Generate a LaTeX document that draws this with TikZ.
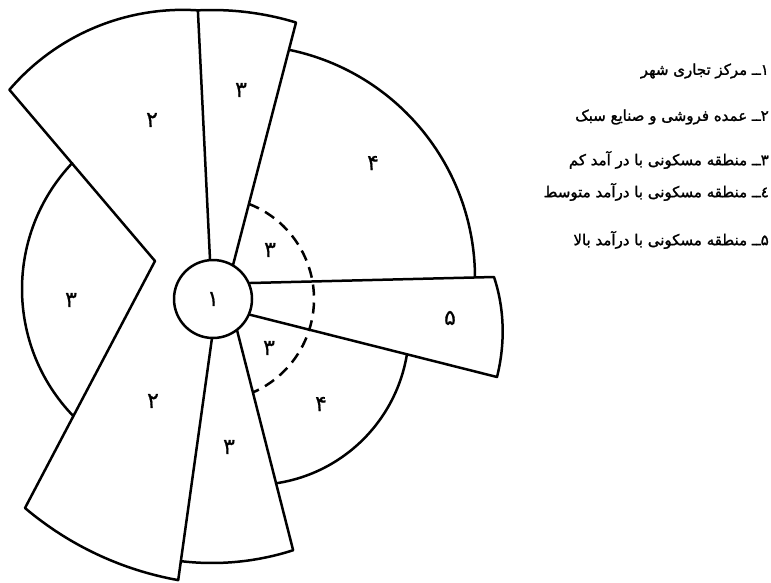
\documentclass[tikz,border=0pt]{standalone}
\usepackage{fontspec}
\newfontfamily\arabicfont[Script=Arabic,FakeBold=0.6]{DejaVu Sans}
\newfontfamily\arabicbold[Script=Arabic,FakeBold=1.6]{DejaVu Sans}
\TeXXeTstate=1
\begin{document}
\begin{tikzpicture}[x=1pt,y=-1pt,
  edge/.style={line width=2.5pt, line join=round, line cap=round},
  dashedarc/.style={line width=2.5pt, dash pattern=on 11pt off 7pt},
  num/.style={font=\arabicfont\fontsize{22}{22}\selectfont, inner sep=0pt},
  legend/.style={font=\arabicbold\fontsize{15}{17}\selectfont, anchor=east, inner sep=0pt}]
\useasboundingbox (0,0) rectangle (771,582);
% key points
\coordinate (ptop) at ([shift={(212,299)}]-92.8:289);
\coordinate (notch) at (155,261);
\coordinate (p2bl) at (25,508);
\coordinate (c2r) at (214.7,318.6);
\coordinate (c3tl) at (211,280);
\coordinate (c3tr) at (228,284.4);
\coordinate (p5tr) at (494,277);
\coordinate (p5br) at (497,377);
\coordinate (c5t) at (230,283.5);
\coordinate (c5b) at (232,310.2);
\coordinate (c3br) at (232.5,312.4);
% sector 2 (upper and lower) with left wedge
\draw[edge] (ptop) arc[start angle=-86.2,end angle=-139.5,radius=228] -- (notch) -- (p2bl)
  arc[start angle=130.3,end angle=100.1,radius=325] -- (c2r);
% top sector 3
\draw[edge] (c3tl) -- (ptop) arc[start angle=-92.8,end angle=-73.1,radius=289] -- (c3tr);
% upper sector 4 arc
\draw[edge] ([shift={(242,278)}]-78.1:233) arc[start angle=-78.1,end angle=-0.3,radius=233];
% sector 5
\draw[edge] (c5t) -- (p5tr) .. controls (505,310) and (505,345) .. (p5br) -- (c5b);
% lower sector 4 arc
\draw[edge] ([shift={(253,329)}]9.6:156) arc[start angle=9.6,end angle=81.5,radius=156];
% lower sector 3
\draw[edge] ([shift={(212,299)}]96.8:264) arc[start angle=96.8,end angle=72.1,radius=264] -- (c3br);
% left sector 3 arc
\draw[edge] ([shift={(205,289)}]136.1:183) arc[start angle=136.1,end angle=223.5,radius=183];
% dashed arc
\draw[dashedarc] ([shift={(212,299)}]-68.8:102) arc[start angle=-68.8,end angle=66.4,radius=102];
% centre
\node[circle, draw, line width=2.5pt, fill=white, minimum size=78pt, inner sep=0pt,
  font=\arabicfont\fontsize{22}{22}\selectfont] (cbd) at (213,299) {۱};
% labels
\node[num] (n3top) at (241,90) {۳};
\node[num] (n2up) at (152,120) {۲};
\node[num] (n4up) at (373,163) {۴};
\node[num] (n3in1) at (270,250) {۳};
\node[num] (n3left) at (71,300) {۳};
\node[num] (n5) at (450,318) {۵};
\node[num] (n3in2) at (269,348) {۳};
\node[num] (n4low) at (321,404) {۴};
\node[num] (n2low) at (153,401) {۲};
\node[num] (n3bot) at (229,447) {۳};
% legend
\node[legend] (l1) at (769,71) {\beginR ۱ــ مرکز تجاری شهر\endR};
\node[legend] (l2) at (769,117) {\beginR ۲ــ عمده فروشی و صنایع سبک\endR};
\node[legend] (l3) at (769,160) {\beginR ۳ــ منطقه مسکونی با در آمد کم\endR};
\node[legend] (l4) at (769,192) {\beginR ٤ــ منطقه مسکونی با درآمد متوسط\endR};
\node[legend] (l5) at (769,240) {\beginR ۵ــ منطقه مسکونی با درآمد بالا\endR};
\end{tikzpicture}
\end{document}
